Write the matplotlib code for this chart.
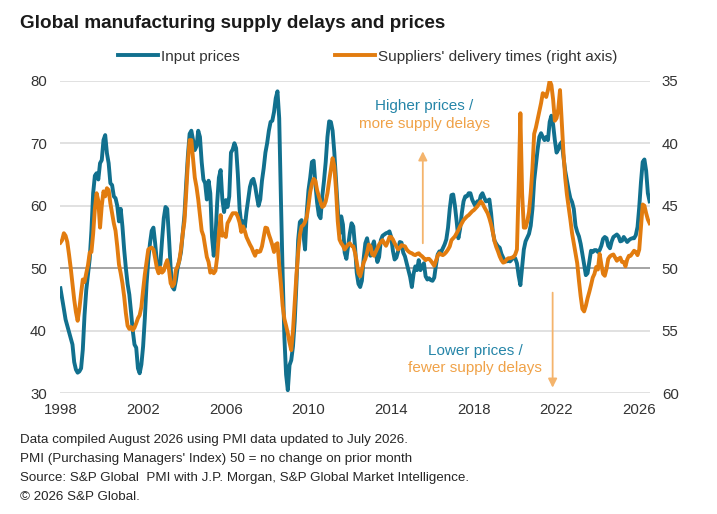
import numpy as np
import matplotlib
matplotlib.use('Agg')
import matplotlib.pyplot as plt

# Global manufacturing PMI: input prices (left axis) and suppliers' delivery times (right axis, inverted)
# monthly, Jan 1998 - Jul 2026

input_prices = [
    46.8, 45.2, 43.5, 41.8, 40.8, 39.8, 38.8, 37.8, 35.0, 33.8, 33.3, 33.5,  # 1998
    34.0, 37.0, 42.5, 46.5, 49.0, 51.5, 56.0, 62.0, 64.8, 65.2, 64.2, 66.8,  # 1999
    67.3, 70.5, 71.3, 68.4, 66.8, 63.6, 63.3, 61.5, 61.2, 60.0, 57.5, 59.5,  # 2000
    56.7, 53.0, 50.0, 47.5, 45.8, 43.0, 40.0, 37.8, 37.3, 34.0, 33.2, 34.6,  # 2001
    37.5, 42.0, 47.5, 51.3, 54.0, 56.0, 56.5, 54.0, 51.0, 50.4, 50.6, 54.5,  # 2002
    58.0, 59.8, 59.5, 55.0, 50.0, 47.0, 46.6, 48.0, 50.0, 51.2, 52.6, 55.5,  # 2003
    58.5, 63.5, 68.0, 71.5, 72.0, 70.5, 68.9, 69.5, 72.0, 71.0, 67.0, 64.2,  # 2004
    63.6, 61.0, 64.0, 62.0, 55.0, 52.0, 55.0, 60.5, 64.5, 65.7, 61.0, 59.0,  # 2005
    60.9, 59.8, 61.5, 68.5, 69.0, 70.0, 69.2, 65.0, 59.5, 57.0, 57.5, 56.5,  # 2006
    59.0, 61.0, 63.0, 64.0, 64.3, 63.2, 61.5, 60.0, 61.0, 64.0, 66.0, 68.5,  # 2007
    70.0, 72.0, 73.4, 73.6, 75.0, 77.2, 78.3, 74.0, 61.0, 49.0, 39.0, 33.0,  # 2008
    30.5, 34.5, 35.3, 37.5, 41.5, 47.5, 54.5, 57.4, 57.7, 55.5, 53.0, 59.0,  # 2009
    62.5, 64.5, 67.0, 67.2, 63.5, 60.5, 58.5, 58.0, 61.5, 64.0, 67.0, 71.0,  # 2010
    73.5, 73.4, 72.0, 68.5, 64.0, 59.5, 55.5, 58.3, 57.0, 52.5, 51.5, 53.5,  # 2011
    55.6, 57.2, 56.7, 53.5, 49.3, 47.5, 47.0, 48.0, 51.5, 54.0, 54.8, 53.2,  # 2012
    52.0, 53.5, 54.3, 52.5, 51.0, 51.8, 54.5, 55.2, 55.4, 55.6, 55.7, 55.9,  # 2013
    55.0, 52.8, 51.4, 51.7, 52.7, 54.2, 54.1, 52.5, 51.9, 50.8, 49.7, 48.6,  # 2014
    47.0, 49.1, 50.3, 49.7, 51.3, 49.7, 50.3, 50.8, 48.7, 48.2, 48.4, 48.1,  # 2015
    48.0, 48.5, 50.5, 52.2, 52.7, 52.6, 53.2, 53.8, 54.6, 56.5, 59.5, 61.7,  # 2016
    61.8, 60.0, 57.5, 54.8, 56.3, 58.8, 60.7, 61.5, 61.5, 62.0, 62.0, 61.0,  # 2017
    60.4, 59.9, 60.7, 60.5, 61.6, 62.0, 61.3, 60.7, 60.8, 61.0, 58.8, 55.8,  # 2018
    54.4, 53.9, 53.5, 53.3, 52.3, 51.7, 51.2, 51.1, 51.2, 51.1, 51.4, 51.8,  # 2019
    51.6, 50.8, 48.8, 47.3, 50.2, 53.0, 54.3, 54.9, 55.5, 56.8, 59.5, 64.0,  # 2020
    66.5, 69.0, 71.0, 71.6, 71.0, 70.5, 71.0, 70.5, 73.4, 74.4, 73.0, 70.5,  # 2021
    68.5, 69.0, 69.8, 70.2, 67.8, 65.6, 64.0, 62.5, 61.2, 60.6, 59.5, 56.8,  # 2022
    55.8, 55.1, 53.9, 52.3, 50.6, 48.9, 49.2, 51.0, 52.8, 52.6, 52.9, 52.9,  # 2023
    52.6, 52.9, 53.6, 54.7, 55.0, 54.8, 53.6, 53.2, 54.3, 55.0, 55.2, 55.4,  # 2024
    55.1, 54.3, 54.4, 55.0, 54.6, 54.2, 54.5, 54.7, 54.8, 54.8, 55.3, 56.6,  # 2025
    59.8, 63.8, 67.0, 67.4, 65.6, 62.0, 60.7,                                # 2026
]

delivery_times = [
    47.95, 47.75, 47.2, 47.4, 47.9, 48.9, 50.0, 51.25, 52.5, 53.5, 54.2, 53.25,  # 1998
    52.0, 50.9, 51.1, 50.4, 49.75, 48.75, 48.7, 47.25, 45.25, 44.0, 44.6, 46.75,  # 1999
    45.0, 43.85, 44.25, 43.6, 43.75, 44.8, 45.6, 46.4, 47.0, 48.25, 49.7, 50.4,  # 2000
    51.2, 52.25, 53.6, 54.6, 54.85, 54.7, 54.95, 54.75, 54.4, 54.0, 53.75, 53.1,  # 2001
    51.75, 50.5, 49.5, 48.5, 48.4, 48.35, 48.5, 49.2, 50.0, 50.4, 49.95, 50.35,  # 2002
    50.2, 49.7, 49.35, 50.1, 51.2, 51.45, 51.25, 50.15, 49.85, 49.4, 48.45, 47.25,  # 2003
    46.25, 44.0, 41.5, 39.75, 39.75, 41.25, 42.75, 43.5, 44.5, 45.75, 47.0, 47.4,  # 2004
    48.25, 49.1, 49.5, 50.35, 50.2, 50.4, 50.2, 49.1, 47.25, 45.75, 47.4, 47.25,  # 2005
    47.5, 46.4, 46.15, 45.85, 45.6, 45.6, 45.6, 45.9, 46.35, 47.1, 46.65, 47.0,  # 2006
    47.5, 47.8, 48.1, 48.35, 48.7, 49.0, 48.6, 48.7, 48.65, 48.25, 47.5, 46.75,  # 2007
    46.8, 47.3, 47.7, 48.15, 48.7, 48.1, 48.0, 49.75, 51.25, 53.0, 54.05, 54.6,  # 2008
    55.2, 55.95, 56.55, 55.0, 52.8, 50.55, 48.75, 47.35, 46.65, 46.55, 46.3, 45.9,  # 2009
    45.0, 43.9, 43.25, 42.85, 43.0, 43.75, 44.25, 44.7, 45.1, 45.0, 44.65, 44.0,  # 2010
    43.0, 42.1, 41.2, 41.85, 43.75, 46.25, 47.7, 48.0, 48.2, 48.5, 48.3, 48.1,  # 2011
    48.0, 48.2, 48.25, 48.75, 49.5, 50.4, 50.65, 50.1, 49.55, 49.25, 48.75, 48.1,  # 2012
    48.25, 48.9, 49.0, 48.7, 48.4, 48.1, 47.9, 47.75, 48.0, 48.2, 47.9, 47.5,  # 2013
    47.5, 47.7, 48.0, 48.25, 48.5, 48.35, 48.15, 48.2, 48.25, 48.5, 48.65, 48.75,  # 2014
    48.8, 48.9, 48.95, 48.85, 48.8, 48.95, 49.05, 49.2, 49.35, 49.25, 49.25, 49.4,  # 2015
    49.6, 49.8, 49.4, 49.0, 48.8, 48.9, 48.95, 48.85, 48.7, 48.5, 48.25, 47.75,  # 2016
    47.6, 47.45, 47.2, 46.95, 46.65, 46.4, 46.15, 46.0, 45.85, 45.75, 45.6, 45.45,  # 2017
    45.35, 45.2, 45.05, 44.85, 44.65, 44.8, 45.1, 45.35, 45.6, 46.0, 46.5, 47.1,  # 2018
    47.85, 48.3, 48.65, 49.05, 49.35, 49.55, 49.5, 49.3, 49.2, 49.2, 49.15, 49.1,  # 2019
    48.9, 48.5, 43.5, 37.6, 44.0, 46.75, 46.75, 46.25, 45.5, 44.0, 42.0, 39.25,  # 2020
    38.75, 38.1, 37.45, 36.8, 36.0, 36.1, 36.3, 35.75, 35.0, 35.35, 36.5, 38.2,  # 2021
    38.0, 37.25, 35.75, 38.25, 40.75, 42.75, 44.1, 45.1, 46.1, 47.2, 48.0, 48.75,  # 2022
    49.6, 51.0, 52.25, 53.25, 53.45, 53.0, 52.4, 51.9, 51.35, 50.75, 50.45, 49.9,  # 2023
    50.1, 48.85, 49.7, 50.45, 50.6, 50.05, 49.25, 49.05, 48.95, 48.9, 49.15, 49.4,  # 2024
    49.25, 49.15, 49.5, 49.5, 49.85, 49.3, 49.0, 49.0, 48.8, 48.6, 48.7, 48.95,  # 2025
    48.5, 46.75, 44.9, 45.0, 45.6, 46.1, 46.4,  # 2026
]

tick_years = [1998, 2002, 2006, 2010, 2014, 2018, 2022, 2026]
left_ticks = [30, 40, 50, 60, 70, 80]
right_ticks = [35, 40, 45, 50, 55, 60]

title = 'Global manufacturing supply delays and prices'
legend_labels = ['Input prices', "Suppliers' delivery times (right axis)"]
footnotes = [
    'Data compiled August 2026 using PMI data updated to July 2026.',
    "PMI (Purchasing Managers' Index) 50 = no change on prior month",
    'Source: S&P Global  PMI with J.P. Morgan, S&P Global Market Intelligence.',
    '\u00a9 2026 S&P Global.',
]

BLUE = '#11708e'
ORANGE = '#e27c0f'
BLUE_TXT = '#2585a8'
ORANGE_TXT = '#f0a248'
ARROW = '#f4b46c'
TXT = '#333333'

plt.rcParams['font.family'] = ['Liberation Sans', 'DejaVu Sans']

months = 1998 + np.arange(len(input_prices)) / 12

fig = plt.figure(figsize=(7.17, 5.14), dpi=100)
ax = fig.add_axes([60 / 717, 1 - 393.3 / 514, 590 / 717, 312.6 / 514])
ax2 = ax.twinx()

for v in left_ticks:
    ax.axhline(v, color='#8c8c8c' if v == 50 else '#d9d9d9', lw=1.1, zorder=0)

l1, = ax.plot(months, input_prices, color=BLUE, lw=2.8, zorder=3)
l2, = ax2.plot(months, delivery_times, color=ORANGE, lw=2.8, zorder=3)

ax.set_xlim(1997.98, 2026.52)
ax.set_ylim(30, 80)
ax2.set_ylim(60, 35)

ax.set_xticks(tick_years)
ax.set_xticklabels([str(y) for y in tick_years])
ax.set_yticks(left_ticks)
ax2.set_yticks(right_ticks)

for a in (ax, ax2):
    for s in a.spines.values():
        s.set_visible(False)
    a.tick_params(length=0, labelsize=10.8, labelcolor=TXT)
ax.tick_params(axis='y', pad=9.5)
ax.tick_params(axis='x', pad=7)
ax2.tick_params(axis='y', pad=8.5)

# direction annotations
ax.annotate('', xy=(2015.53, 68.7), xytext=(2015.53, 54.0),
            arrowprops=dict(arrowstyle='-|>', color=ARROW, lw=1.3,
                            mutation_scale=13, shrinkA=0, shrinkB=0))
ax.text(2015.6, 75.9, 'Higher prices /', ha='center', va='center', fontsize=11, color=BLUE_TXT)
ax.text(2015.6, 73.0, 'more supply delays', ha='center', va='center', fontsize=11, color=ORANGE_TXT)

ax.annotate('', xy=(2021.81, 30.9), xytext=(2021.81, 46.1),
            arrowprops=dict(arrowstyle='-|>', color=ARROW, lw=1.3,
                            mutation_scale=13, shrinkA=0, shrinkB=0))
ax.text(2018.05, 36.8, 'Lower prices /', ha='center', va='center', fontsize=11, color=BLUE_TXT)
ax.text(2018.05, 34.0, 'fewer supply delays', ha='center', va='center', fontsize=11, color=ORANGE_TXT)

fig.text(20 / 717, 1 - 28.3 / 514, title, ha='left', va='baseline',
         fontsize=13.6, fontweight='bold', color='#1a1a1a')

em = 11 / 72 * 100
fig.legend([l1, l2], legend_labels, loc='center', bbox_to_anchor=(367.5 / 717, 1 - 56.7 / 514),
           ncol=2, frameon=False, handlelength=40 / em, handletextpad=3 / em,
           columnspacing=95 / em, fontsize=11, labelcolor=TXT,
           borderpad=0, borderaxespad=0)

for i, line in enumerate(footnotes):
    fig.text(20 / 717, 1 - (440 + 19 * i) / 514, line, ha='left', va='center',
             fontsize=9.6, color='#262626')

fig.savefig('out.png', dpi=100)
